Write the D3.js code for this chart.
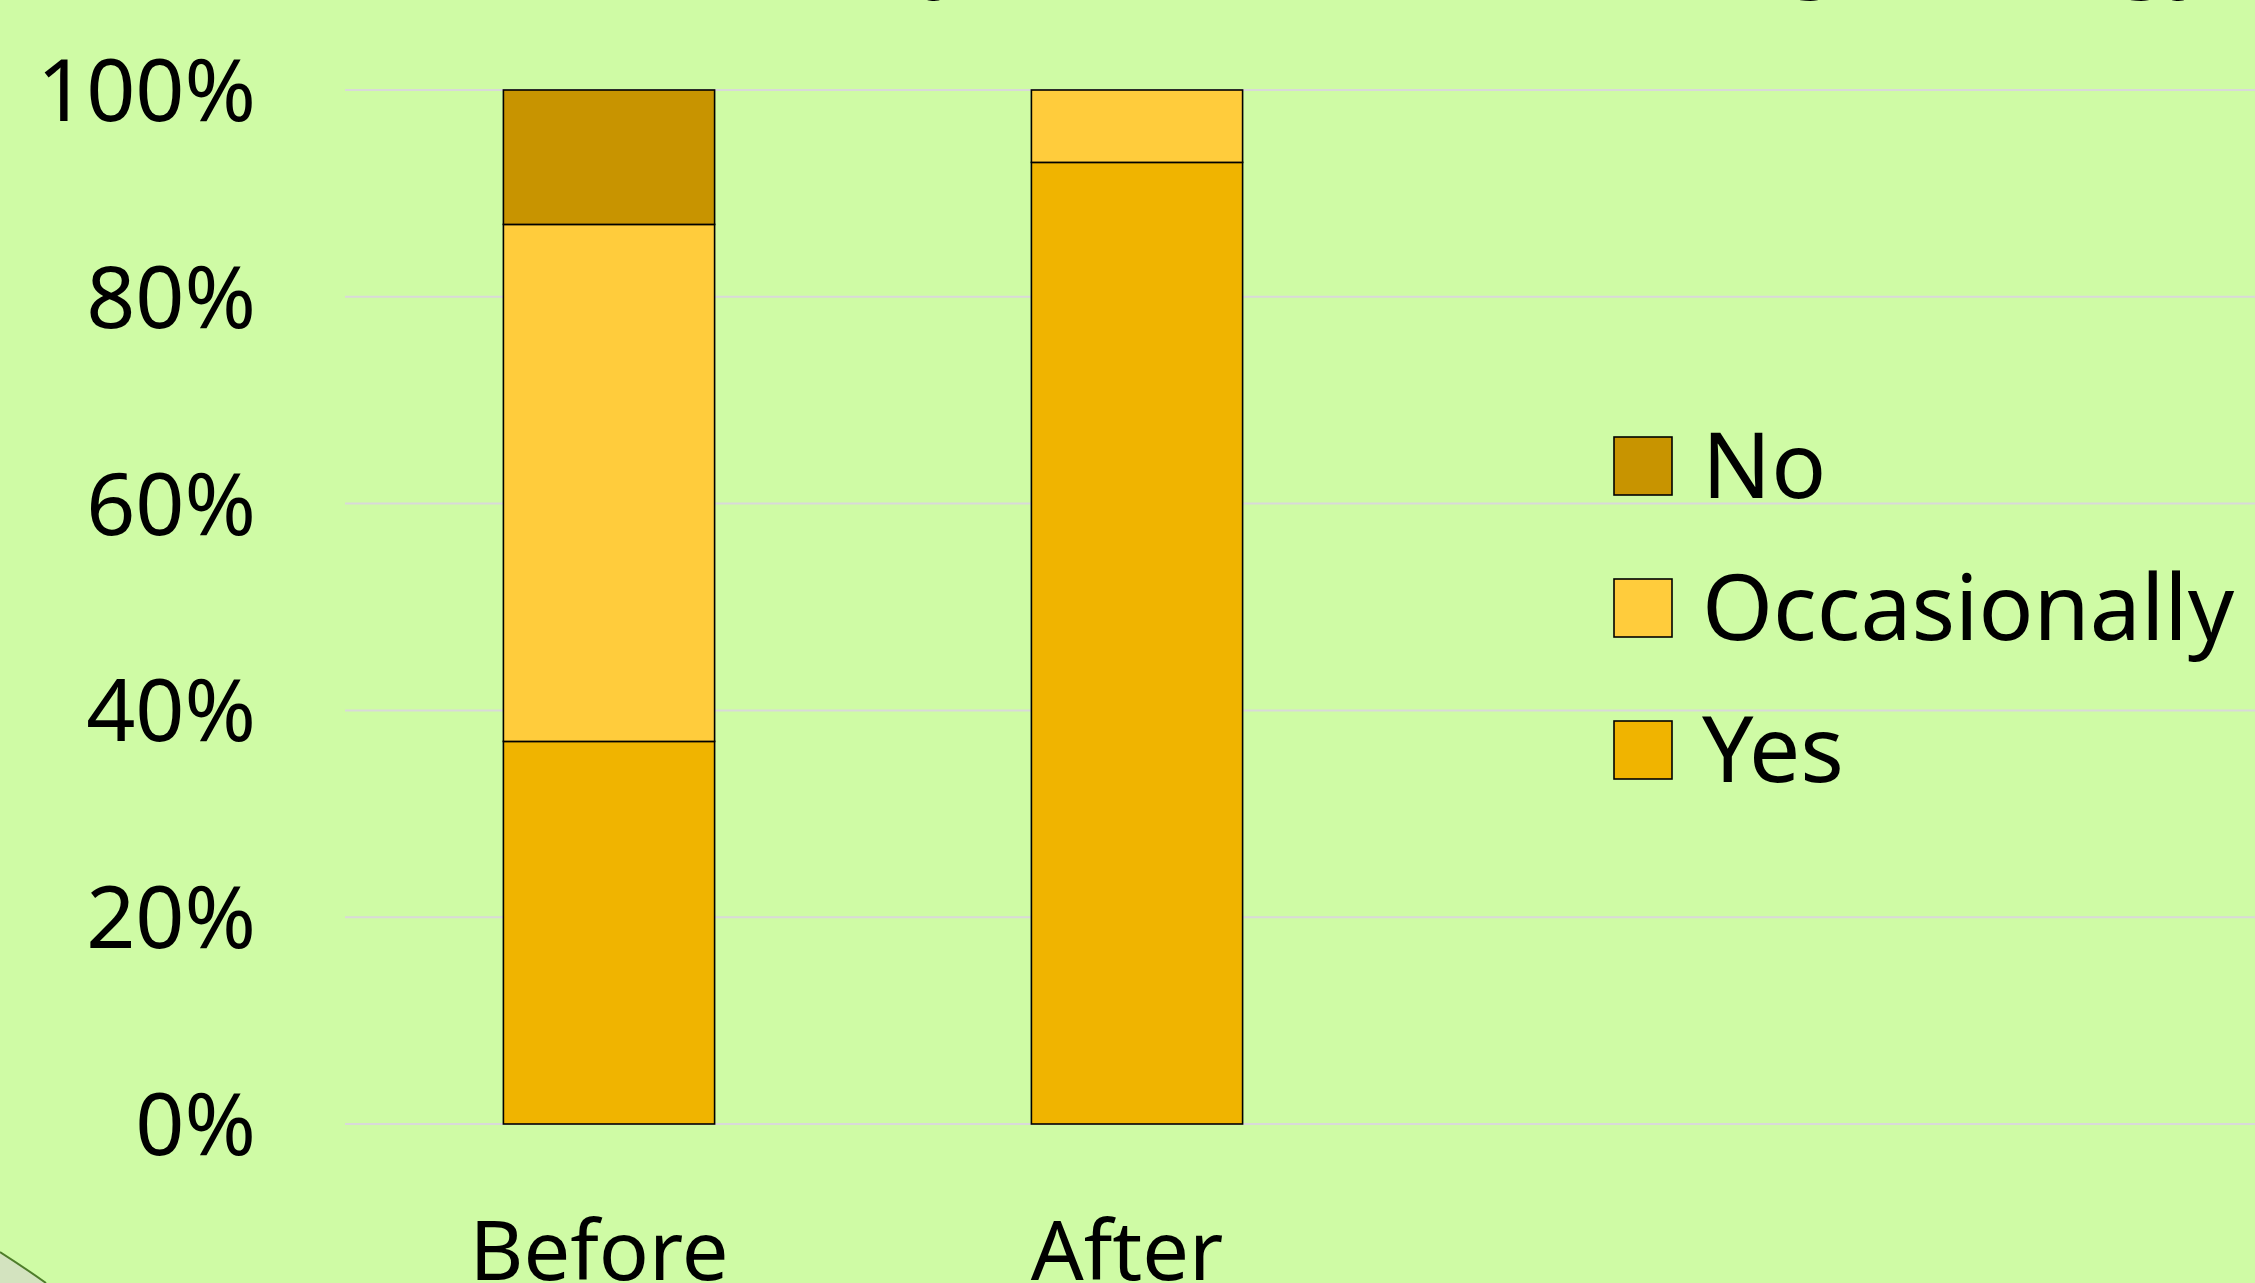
<!DOCTYPE html>
<html>
<head>
<meta charset="utf-8">
<title>Before / After stacked bars</title>
<script src="https://cdn.jsdelivr.net/npm/d3@7"></script>
<style>
  html, body { margin: 0; padding: 0; background: #CFFBA5; }
  svg { display: block; }
  text { font-family: "Noto Sans", "Open Sans", sans-serif; fill: #000; }
</style>
</head>
<body>
<svg width="2255" height="1283"></svg>
<script>
// data (share of answers, %)
var categories = ["Before", "After"];
var seriesNames = ["Yes", "Occasionally", "No"];   // bottom to top
var yesValues = [37, 93];
var occasionallyValues = [50, 7];
var noValues = [13, 0];
var yTicks = [0, 20, 40, 60, 80, 100];
var titleText = "Did students study more after learning strategy";

var colors = { "Yes": "#F0B400", "Occasionally": "#FFCC3C", "No": "#C89400" };

var svg = d3.select("svg");
var W = +svg.attr("width"), H = +svg.attr("height");
var margin = { top: 90, left: 345, bottom: 1124 };

// background
svg.append("rect").attr("width", W).attr("height", H).attr("fill", "#CFFBA5");

// edge of the rounded backdrop at bottom left
svg.append("path")
  .attr("d", "M0,1252 Q22,1266 46,1283 L0,1283 Z")
  .attr("fill", "#D3E3BF");
svg.append("path")
  .attr("d", "M0,1252 Q22,1266 46,1283")
  .attr("fill", "none").attr("stroke", "#4E7D2A").attr("stroke-width", 2);

// title (only its lower part falls in the frame)
svg.append("text")
  .attr("x", 2218).attr("y", -21)
  .attr("text-anchor", "end")
  .attr("font-size", 92)
  .text(titleText);

var x = d3.scaleBand()
  .domain(categories)
  .range([margin.left, margin.left + 528 * 2])
  .paddingInner(0.6)
  .paddingOuter(0.3);

var y = d3.scaleLinear().domain([0, 100]).range([margin.bottom, margin.top]);

// gridlines
svg.append("g")
  .selectAll("line")
  .data(yTicks)
  .enter()
  .append("line")
  .attr("x1", margin.left).attr("x2", W)
  .attr("y1", function(d){ return y(d); })
  .attr("y2", function(d){ return y(d); })
  .attr("stroke", "#D9D9D9")
  .attr("stroke-width", 2);

// y tick labels
svg.append("g")
  .selectAll("text")
  .data(yTicks)
  .enter()
  .append("text")
  .attr("x", 256)
  .attr("y", function(d){ return y(d) + 31; })
  .attr("text-anchor", "end")
  .attr("font-size", 86)
  .text(function(d){ return d + "%"; });

// stacked data
var rows = categories.map(function(c, i){
  return { cat: c, "Yes": yesValues[i], "Occasionally": occasionallyValues[i], "No": noValues[i] };
});
var stack = d3.stack().keys(seriesNames)(rows);

svg.append("g")
  .selectAll("g")
  .data(stack)
  .enter()
  .append("g")
  .attr("fill", function(s){ return colors[s.key]; })
  .selectAll("rect")
  .data(function(s){ return s.filter(function(d){ return d[1] - d[0] > 0; }); })
  .enter()
  .append("rect")
  .attr("x", function(d){ return x(d.data.cat); })
  .attr("width", x.bandwidth())
  .attr("y", function(d){ return y(d[1]); })
  .attr("height", function(d){ return y(d[0]) - y(d[1]); })
  .attr("stroke", "#000")
  .attr("stroke-width", 1.6);

// x labels
svg.append("g")
  .selectAll("text")
  .data(categories)
  .enter()
  .append("text")
  .attr("x", function(d){ return x(d) + x.bandwidth() / 2 - 10; })
  .attr("y", 1280)
  .attr("text-anchor", "middle")
  .attr("font-size", 83)
  .text(function(d){ return d; });

// legend, top to bottom: No, Occasionally, Yes
var legendItems = seriesNames.slice().reverse();
var lg = svg.append("g")
  .selectAll("g")
  .data(legendItems)
  .enter()
  .append("g")
  .attr("transform", function(d, i){ return "translate(1614," + (437 + i * 142) + ")"; });

lg.append("rect")
  .attr("width", 58).attr("height", 58)
  .attr("fill", function(d){ return colors[d]; })
  .attr("stroke", "#000").attr("stroke-width", 1.6);

lg.append("text")
  .attr("x", 88)
  .attr("y", 61)
  .attr("font-size", 91)
  .text(function(d){ return d; });
</script>
</body>
</html>
